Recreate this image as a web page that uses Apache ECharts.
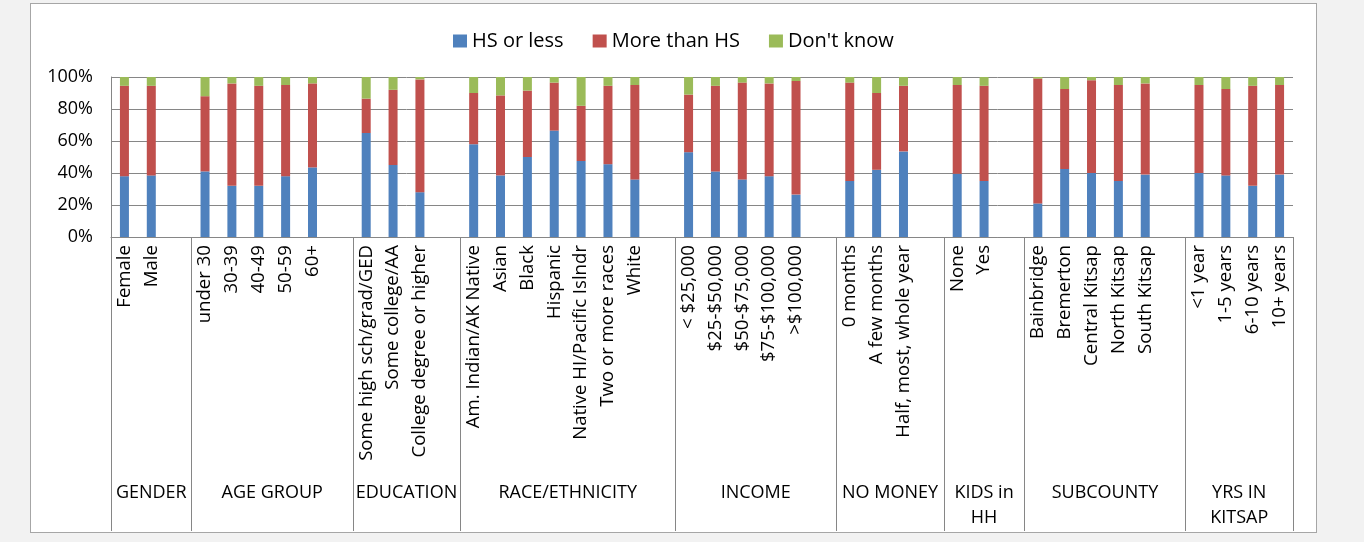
<!DOCTYPE html>
<html>
<head>
<meta charset="utf-8">
<script src="https://cdn.jsdelivr.net/npm/echarts@6/dist/echarts.min.js"></script>
<style>
  html, body { margin: 0; padding: 0; background: #f2f2f2; }
  #chart { position: absolute; left: 30px; top: 3px; width: 1285px; height: 528px;
           border: 1px solid #a6a6a6; background: #ffffff; }
</style>
</head>
<body>
<div id="chart"></div>
<script>
// ---- data ----
const categories = [
  'Female','Male','',
  'under 30','30-39','40-49','50-59','60+','',
  'Some high sch/grad/GED','Some college/AA','College degree or higher','',
  'Am. Indian/AK Native','Asian','Black','Hispanic','Native HI/Pacific Islndr','Two or more races','White','',
  '< $25,000','$25-$50,000','$50-$75,000','$75-$100,000','>$100,000','',
  '0 months','A few months','Half, most, whole year','',
  'None','Yes','',
  'Bainbridge','Bremerton','Central Kitsap','North Kitsap','South Kitsap','',
  '<1 year','1-5 years','6-10 years','10+ years'
];
const hsOrLess = [
  38, 38.5, null,
  41, 32, 32, 38, 43.5, null,
  65, 45, 28, null,
  58, 38.5, 50, 66.5, 47.5, 45.5, 36, null,
  53, 41, 36, 38, 26.5, null,
  35, 42, 53.5, null,
  39.5, 35, null,
  21, 42.5, 40, 35, 39, null,
  40, 38.5, 32, 39
];
const moreThanHS = [
  56.5, 56, null,
  47, 64, 62.5, 57, 52.5, null,
  21.5, 47, 70.5, null,
  32, 50, 41.5, 30, 34.5, 49, 59, null,
  36, 53.5, 60.5, 58, 71, null,
  61.5, 48, 41, null,
  55.5, 59.5, null,
  78, 50, 58, 60, 57, null,
  55, 54, 62.5, 56
];
const dontKnow = [
  5.5, 5.5, null,
  12, 4, 5.5, 5, 4, null,
  13.5, 8, 1.5, null,
  10, 11.5, 8.5, 3.5, 18, 5.5, 5, null,
  11, 5.5, 3.5, 4, 2.5, null,
  3.5, 10, 5.5, null,
  5, 5.5, null,
  1, 7.5, 2, 5, 4, null,
  5, 7.5, 5.5, 5
];
const groupNames = ['GENDER','AGE GROUP','EDUCATION','RACE/ETHNICITY','INCOME','NO MONEY','KIDS in\nHH','SUBCOUNTY','YRS IN\nKITSAP'];
const groupSlots = [3, 6, 4, 8, 6, 4, 3, 6, 4];
const yTicks = [0, 20, 40, 60, 80, 100];

// ---- build group axis (half-slot resolution, boundaryGap false) ----
const nHalf = categories.length * 2;
const groupAxisData = new Array(nHalf + 1).fill('');
const boundaries = new Set([0]);
let start = 0;
groupNames.forEach((name, i) => {
  const s2 = start * 2, size = groupSlots[i];
  groupAxisData[s2 + size] = name;
  start += size;
  boundaries.add(start * 2);
});

const FONT = '"Open Sans", sans-serif';
const GRAY = '#868686';

const chart = echarts.init(document.getElementById('chart'));
chart.setOption({
  animation: false,
  textStyle: { fontFamily: FONT },
  legend: {
    left: 417, top: 22,
    itemWidth: 14, itemHeight: 13, itemGap: 29,
    icon: 'rect',
    textStyle: { fontSize: 20, color: '#000', fontFamily: FONT },
    data: ['HS or less', 'More than HS', "Don't know"]
  },
  grid: { left: 80, top: 73, width: 1182, height: 160, containLabel: false, outerBoundsMode: 'none' },
  xAxis: [
    {
      type: 'category', position: 'bottom', data: categories,
      axisLine: { show: true, lineStyle: { color: GRAY, width: 1 } },
      axisTick: { show: false },
      axisLabel: { interval: 0, rotate: 90, margin: 8, fontSize: 18.6, color: '#000', fontFamily: FONT }
    },
    {
      type: 'category', position: 'bottom', boundaryGap: false, data: groupAxisData,
      axisLine: { show: false },
      axisTick: { show: true, interval: (i) => boundaries.has(i), length: 294,
                  lineStyle: { color: GRAY, width: 1 } },
      axisLabel: { interval: 0, margin: 243, fontSize: 18, lineHeight: 25, color: '#000',
                   fontFamily: FONT, verticalAlign: 'top', align: 'center' },
      splitLine: { show: false }
    }
  ],
  yAxis: {
    type: 'value', min: yTicks[0], max: yTicks[yTicks.length - 1], interval: 20,
    axisLine: { show: true, lineStyle: { color: GRAY, width: 1 } },
    axisTick: { show: false },
    axisLabel: { formatter: '{value}%', fontSize: 18, color: '#000', margin: 18, fontFamily: FONT },
    splitLine: { show: true, lineStyle: { color: GRAY, width: 1 } }
  },
  series: [
    { name: 'HS or less', type: 'bar', stack: 'all', barWidth: 9, data: hsOrLess,
      itemStyle: { color: '#4f81bd' } },
    { name: 'More than HS', type: 'bar', stack: 'all', barWidth: 9, data: moreThanHS,
      itemStyle: { color: '#c0504d' } },
    { name: "Don't know", type: 'bar', stack: 'all', barWidth: 9, data: dontKnow,
      itemStyle: { color: '#9bbb59' } }
  ]
});
</script>
</body>
</html>
